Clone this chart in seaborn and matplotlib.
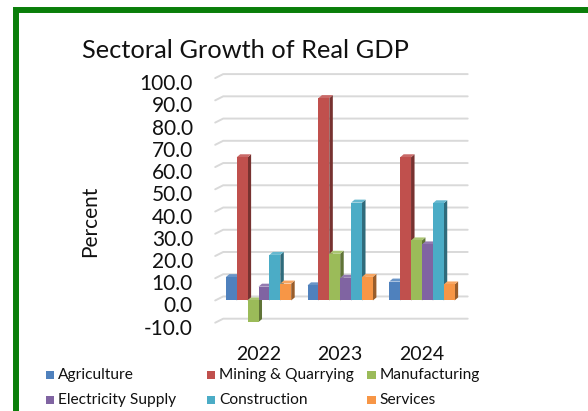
import numpy as np
import pandas as pd
import matplotlib
matplotlib.use("Agg")
import matplotlib.pyplot as plt
import matplotlib.colors as mcolors
from matplotlib.patches import Polygon, Rectangle
from matplotlib.lines import Line2D
from matplotlib.transforms import IdentityTransform, ScaledTranslation
import seaborn as sns

# ---- data -------------------------------------------------------------
years = ["2022", "2023", "2024"]
sectors = ["Agriculture", "Mining & Quarrying", "Manufacturing",
           "Electricity Supply", "Construction", "Services"]
agriculture = [10.5, 6.8, 8.5]
mining = [64.4, 91.0, 64.4]
manufacturing = [-9.7, 21.0, 27.0]
electricity = [6.2, 10.2, 25.2]
construction = [20.5, 44.0, 43.7]
services = [7.6, 10.6, 7.2]
y_ticks = [-10, 0, 10, 20, 30, 40, 50, 60, 70, 80, 90, 100]

colors = ["#4F81BD", "#C0504D", "#9BBB59", "#8064A2", "#4BACC6", "#F79646"]

series = [agriculture, mining, manufacturing, electricity, construction, services]
df = pd.DataFrame({
    "year": np.repeat([years], len(sectors), axis=0).ravel(),
    "sector": np.repeat(sectors, len(years)),
    "value": np.concatenate(series),
})

# ---- figure -----------------------------------------------------------
sns.set_theme(style="white")
plt.rcParams["font.family"] = ["Lato", "DejaVu Sans"]
W, H, DPI = 588, 411, 100
fig = plt.figure(figsize=(W / DPI, H / DPI), dpi=DPI)
fig.patch.set_facecolor("white")

# axes box in pixels (front plane of the 3-D look)
ax_left, ax_right = 215.2, 467.7
ax_top, ax_bottom = 78.1, 322.7
ax = fig.add_axes([ax_left / W, 1 - ax_bottom / H,
                   (ax_right - ax_left) / W, (ax_bottom - ax_top) / H])
ax.set_facecolor("none")

sns.barplot(data=df, x="year", y="value", hue="sector", order=years,
            hue_order=sectors, palette=colors, saturation=1, width=0.8,
            linewidth=0, legend=False, ax=ax)

ax.set_xlim(-0.53, 2.56)
ax.set_ylim(-10, 100)
for s in ax.spines.values():
    s.set_visible(False)
ax.grid(False)
ax.set_xlabel("")
ax.set_ylabel("")
ax.set_yticks(y_ticks)
ax.set_yticklabels([f"{v:.1f}" for v in y_ticks], fontsize=15, color="#111111")
ax.tick_params(axis="y", length=0, pad=16)
ax.tick_params(axis="x", length=0, pad=17, labelsize=14, labelcolor="#111111")
# value labels sit a little below the front edge of each gridline
shift = ScaledTranslation(0, -4 / DPI, fig.dpi_scale_trans)
for lbl in ax.get_yticklabels():
    lbl.set_transform(lbl.get_transform() + shift)

# ---- 3-D floor gridlines ---------------------------------------------
ident = IdentityTransform()
gdx, gdy = 8, 4
for v in y_ticks:
    _, yd = ax.transData.transform((0, v))
    xl = ax_left
    xr = ax_right
    ax.add_line(Line2D([xl, xl + gdx, xr], [yd, yd + gdy, yd + gdy],
                       transform=ident, color="#D9D9D9", lw=1.4,
                       clip_on=False, zorder=0.5))

# ---- 3-D faces on each bar -------------------------------------------
bdx, bdy = 3.5, 3.0
bars = [p for p in ax.patches if isinstance(p, Rectangle)]
bars_sorted = sorted(bars, key=lambda p: p.get_x())
for rank, p in enumerate(bars_sorted):
    x0, y0 = p.get_x(), p.get_y()
    x1, y1 = x0 + p.get_width(), y0 + p.get_height()
    (dx0, dy0) = ax.transData.transform((x0, min(y0, y1)))
    (dx1, dy1) = ax.transData.transform((x1, max(y0, y1)))
    base = np.array(mcolors.to_rgb(p.get_facecolor()))
    side = base * 0.62
    top = base + (1 - base) * 0.15
    z = 2 + rank * 0.01
    p.set_zorder(z + 0.005)
    ax.add_patch(Polygon([(dx1, dy0), (dx1 + bdx, dy0 + bdy),
                          (dx1 + bdx, dy1 + bdy), (dx1, dy1)],
                         closed=True, transform=ident, facecolor=side,
                         edgecolor="none", clip_on=False, zorder=z))
    ax.add_patch(Polygon([(dx0, dy1), (dx1, dy1), (dx1 + bdx, dy1 + bdy),
                          (dx0 + bdx, dy1 + bdy)],
                         closed=True, transform=ident, facecolor=top,
                         edgecolor="none", clip_on=False, zorder=z))

# ---- titles ------------------------------------------------------------
fig.text(245 / W, 1 - 51 / H, "Sectoral Growth of Real GDP", ha="center",
         va="center", fontsize=18.3, color="#111111")
fig.text(90 / W, 1 - 221 / H, "Percent", ha="center", va="center",
         rotation=90, fontsize=15, color="#111111")

# ---- legend (2 rows x 3 columns) -------------------------------------
col_x = [45.7, 206.7, 367.0]
row_y = [375.0, 400.0]
sq = 8.5
for i, (name, c) in enumerate(zip(sectors, colors)):
    r, k = divmod(i, 3)
    xm, ym = col_x[k], row_y[r]
    fig.patches.append(Rectangle((xm / W, 1 - (ym + sq / 2) / H), sq / W, sq / H,
                                 transform=fig.transFigure, facecolor=c,
                                 edgecolor="none"))
    fig.text((xm + sq + 4) / W, 1 - ym / H, name, ha="left", va="center",
             fontsize=11.2, color="#111111")

# ---- green frame -------------------------------------------------------
fig.patches.append(Rectangle((15.5 / W, -0.2), 1.2, 1 - 10 / H + 0.2,
                             transform=fig.transFigure, facecolor="none",
                             edgecolor="#0A7E0A", linewidth=4.3, zorder=10))

fig.savefig("out.png", dpi=DPI)
